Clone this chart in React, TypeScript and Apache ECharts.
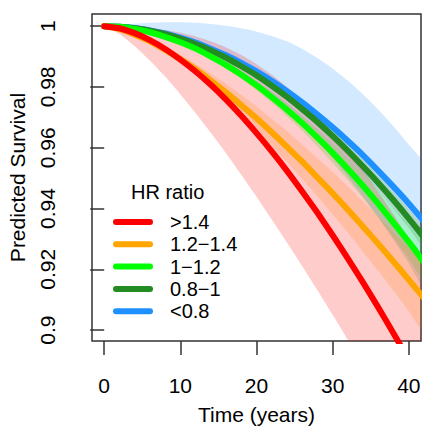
import React, { useEffect, useRef } from "react";
import * as echarts from "echarts";

// Time grid (years)
const years = [0, 2, 4, 6, 8, 10, 12, 14, 16, 18, 20, 22, 24, 26, 28, 30, 32, 34, 36, 38, 40, 42];

// Group labels (HR ratio)
const groupNames = [">1.4", "1.2\u22121.4", "1\u22121.2", "0.8\u22121", "<0.8"];
const groupColors = ["#FF0000", "#FFA500", "#00FF00", "#228B22", "#1E90FF"];
const bandColors = [
  "rgba(255,0,0,0.2)",
  "rgba(255,165,0,0.2)",
  "rgba(0,255,0,0.2)",
  "rgba(34,139,34,0.2)",
  "rgba(30,144,255,0.2)",
];

// Predicted survival
const survRed = [1, 0.9993, 0.9977, 0.9954, 0.9925, 0.989, 0.9851, 0.9807, 0.9758, 0.9705, 0.9648, 0.9588, 0.9524, 0.9456, 0.9386, 0.9312, 0.9235, 0.9156, 0.9074, 0.8989, 0.8902, 0.8812];
const lowRed = [1, 0.9974, 0.9934, 0.9887, 0.9834, 0.9776, 0.9714, 0.9649, 0.9582, 0.9511, 0.9439, 0.9364, 0.9288, 0.921, 0.9131, 0.905, 0.8967, 0.8885, 0.8801, 0.8716, 0.8631, 0.8545];
const highRed = [1, 1.0, 0.9998, 0.9994, 0.9987, 0.9978, 0.9966, 0.995, 0.993, 0.9905, 0.9875, 0.984, 0.98, 0.9755, 0.9705, 0.965, 0.959, 0.9525, 0.9455, 0.938, 0.93, 0.9215];

const survOrange = [1, 0.999, 0.9972, 0.995, 0.9922, 0.9892, 0.9858, 0.9821, 0.9782, 0.974, 0.9697, 0.9651, 0.9603, 0.9554, 0.9502, 0.945, 0.9396, 0.934, 0.9283, 0.9225, 0.9165, 0.9105];
const lowOrange = [1, 0.9989, 0.9969, 0.9943, 0.9912, 0.9878, 0.984, 0.9798, 0.9754, 0.9707, 0.9658, 0.9606, 0.9553, 0.9497, 0.944, 0.938, 0.932, 0.9257, 0.9194, 0.9129, 0.9062, 0.8994];
const highOrange = [1, 0.9992, 0.9976, 0.9956, 0.9932, 0.9906, 0.9876, 0.9844, 0.981, 0.9774, 0.9736, 0.9695, 0.9654, 0.961, 0.9566, 0.952, 0.9472, 0.9423, 0.9373, 0.9322, 0.927, 0.9217];

const survGreen = [1, 0.9998, 0.9991, 0.998, 0.9965, 0.9947, 0.9926, 0.99, 0.9872, 0.984, 0.9805, 0.9766, 0.9725, 0.9681, 0.9633, 0.9583, 0.953, 0.9474, 0.9415, 0.9353, 0.929, 0.9223];
const lowGreen = [1, 0.9997, 0.999, 0.9978, 0.9963, 0.9943, 0.992, 0.9892, 0.9862, 0.9827, 0.9789, 0.9748, 0.9703, 0.9656, 0.9604, 0.955, 0.9493, 0.9433, 0.937, 0.9303, 0.9235, 0.9164];
const highGreen = [1, 0.9998, 0.9992, 0.9982, 0.9968, 0.9952, 0.9931, 0.9908, 0.9882, 0.9853, 0.982, 0.9785, 0.9747, 0.9706, 0.9662, 0.9616, 0.9566, 0.9515, 0.946, 0.9403, 0.9345, 0.9283];

const survDark = [1, 0.9998, 0.9993, 0.9985, 0.9974, 0.9959, 0.9941, 0.992, 0.9896, 0.9868, 0.9838, 0.9804, 0.9767, 0.9727, 0.9685, 0.9639, 0.959, 0.9538, 0.9484, 0.9427, 0.9367, 0.9304];
const lowDark = [1, 0.9998, 0.9993, 0.9985, 0.9973, 0.9957, 0.9938, 0.9916, 0.9891, 0.9862, 0.983, 0.9794, 0.9756, 0.9714, 0.9669, 0.9621, 0.957, 0.9516, 0.9459, 0.9399, 0.9336, 0.9271];
const highDark = [1, 0.9998, 0.9994, 0.9986, 0.9975, 0.9961, 0.9944, 0.9924, 0.9901, 0.9875, 0.9846, 0.9814, 0.9779, 0.9741, 0.97, 0.9657, 0.961, 0.9561, 0.9509, 0.9455, 0.9398, 0.9338];

const survBlue = [1, 0.9998, 0.9994, 0.9986, 0.9976, 0.9962, 0.9946, 0.9926, 0.9904, 0.9879, 0.9851, 0.982, 0.9786, 0.9749, 0.9709, 0.9667, 0.9622, 0.9575, 0.9524, 0.9471, 0.9416, 0.9358];
const lowBlue = [1, 0.9999, 0.9994, 0.9985, 0.9972, 0.9956, 0.9935, 0.9911, 0.9882, 0.9849, 0.9813, 0.9771, 0.9726, 0.9677, 0.9624, 0.9566, 0.9504, 0.9439, 0.937, 0.9296, 0.922, 0.9139];
const highBlue = [1, 1.0004, 1.0008, 1.0011, 1.0013, 1.0013, 1.0011, 1.0007, 1.0001, 0.9993, 0.9982, 0.9968, 0.995, 0.9925, 0.9895, 0.986, 0.982, 0.9775, 0.9725, 0.967, 0.961, 0.9545];

const survival = [survRed, survOrange, survGreen, survDark, survBlue];
const lower = [lowRed, lowOrange, lowGreen, lowDark, lowBlue];
const upper = [highRed, highOrange, highGreen, highDark, highBlue];

// Axis ticks
const xTicks = [0, 10, 20, 30, 40];
const yTicks = [0.9, 0.92, 0.94, 0.96, 0.98, 1];

const FONT = "'Liberation Sans', Arial, Helvetica, sans-serif";

export default function App() {
  const ref = useRef<HTMLDivElement>(null);

  useEffect(() => {
    if (!ref.current) return;
    const chart = echarts.init(ref.current, undefined, { renderer: "svg" });

    const series: any[] = [];
    // confidence bands as polygons, drawn from the last group to the first
    for (let g = groupNames.length - 1; g >= 0; g--) {
      const lo = lower[g];
      const hi = upper[g];
      const color = bandColors[g];
      series.push({
        type: "custom",
        silent: true,
        clip: true,
        z: 1,
        data: years.map((t, j) => [t, lo[j], hi[j]]),
        encode: { x: 0, y: [1, 2] },
        renderItem: (params: any, api: any) => {
          if (params.dataIndex !== 0) return null;
          const pts: number[][] = [];
          for (let j = 0; j < years.length; j++) pts.push(api.coord([years[j], hi[j]]));
          for (let j = years.length - 1; j >= 0; j--) pts.push(api.coord([years[j], lo[j]]));
          const cs = params.coordSys;
          return {
            type: "polygon",
            shape: { points: pts, smooth: 0.2 },
            style: { fill: color, stroke: "none" },
            clipPath: { type: "rect", shape: { x: cs.x, y: cs.y, width: cs.width, height: cs.height } },
          };
        },
      });
    }
    // survival curves, red on top
    for (let g = groupNames.length - 1; g >= 0; g--) {
      series.push({
        type: "line",
        name: groupNames[g],
        data: years.map((t, j) => [t, survival[g][j]]),
        symbol: "none",
        smooth: 0.2,
        lineStyle: { color: groupColors[g], width: 6, cap: "round", join: "round" },
        itemStyle: { color: groupColors[g] },
        z: 3,
      });
    }

    const option: any = {
      animation: false,
      backgroundColor: "#ffffff",
      textStyle: { fontFamily: FONT },
      title: {
        text: "HR ratio",
        left: 131,
        top: 182,
        padding: 0,
        textStyle: { fontSize: 20, fontWeight: "normal", color: "#000", fontFamily: FONT },
      },
      legend: {
        data: groupNames,
        orient: "vertical",
        left: 113,
        top: 212,
        padding: 0,
        itemWidth: 40,
        itemHeight: 6,
        itemGap: 2.3,
        icon: "path://M3,0 L37,0 A3,3 0 0 1 37,6 L3,6 A3,3 0 0 1 3,0 Z",
        textStyle: { fontSize: 20, color: "#000", fontFamily: FONT, padding: [0, 0, 0, 12] },
        selectedMode: false,
      },
      grid: {
        left: 92,
        right: 1,
        top: 14,
        bottom: 85,
        show: true,
        borderColor: "#333",
        borderWidth: 1.5,
        backgroundColor: "transparent",
        outerBoundsMode: "none",
      },
      xAxis: {
        type: "value",
        min: -1.6,
        max: 41.6,
        splitLine: { show: false },
        axisLine: { show: false },
        axisTick: {
          show: true,
          length: 14,
          customValues: xTicks,
          lineStyle: { color: "#333", width: 1.5 },
        },
        axisLabel: {
          customValues: xTicks,
          margin: 34,
          fontSize: 21,
          color: "#000",
          fontFamily: FONT,
          formatter: (v: number) => String(v),
        },
        name: "Time (years)",
        nameLocation: "middle",
        nameGap: 63,
        nameTextStyle: { fontSize: 21, color: "#000", fontFamily: FONT },
      },
      yAxis: {
        type: "value",
        min: 0.8964,
        max: 1.004,
        splitLine: { show: false },
        axisLine: { show: false },
        axisTick: {
          show: true,
          length: 14,
          customValues: yTicks,
          lineStyle: { color: "#333", width: 1.5 },
        },
        axisLabel: {
          customValues: yTicks,
          rotate: 90,
          margin: 34,
          fontSize: 21,
          color: "#000",
          fontFamily: FONT,
          formatter: (v: number) => String(v),
        },
        name: "Predicted Survival",
        nameLocation: "middle",
        nameGap: 64,
        nameTextStyle: { fontSize: 21, color: "#000", fontFamily: FONT },
      },
      series,
    };

    chart.setOption(option);
    return () => chart.dispose();
  }, []);

  return (
    <div
      ref={ref}
      style={{ position: "fixed", left: 0, top: 0, width: 422, height: 426, background: "#fff" }}
    />
  );
}
